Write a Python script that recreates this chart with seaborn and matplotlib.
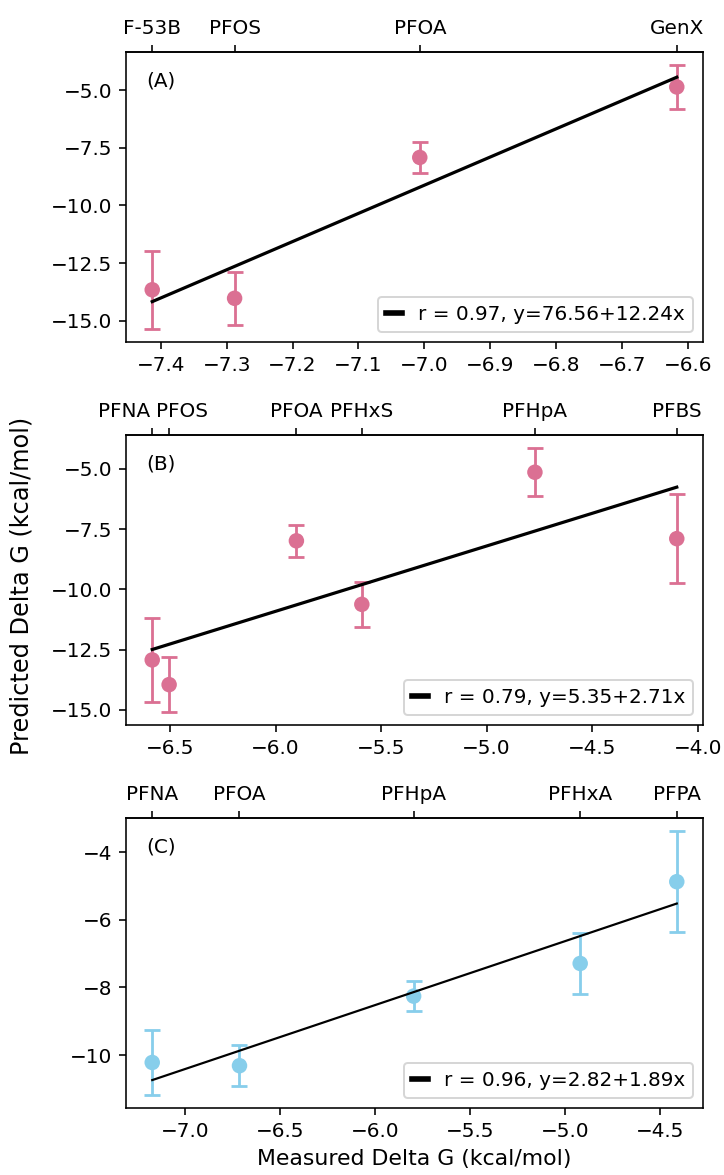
import matplotlib
matplotlib.use("Agg")
import matplotlib.pyplot as plt
from matplotlib.ticker import MultipleLocator
from matplotlib.transforms import ScaledTranslation
import seaborn as sns
import numpy as np
import pandas as pd

# Panel A
names_a = ["F-53B", "PFOS", "PFOA", "GenX"]
meas_a = [-7.413, -7.288, -7.007, -6.617]
pred_a = [-13.66, -14.03, -7.915, -4.855]
err_a = [1.70, 1.14, 0.685, 0.945]
fit_a = (0.97, 76.56, 12.24)

# Panel B
names_b = ["PFNA", "PFOS", "PFOA", "PFHxS", "PFHpA", "PFBS"]
meas_b = [-6.584, -6.504, -5.901, -5.591, -4.771, -4.099]
pred_b = [-12.925, -13.95, -7.985, -10.62, -5.14, -7.895]
err_b = [1.745, 1.13, 0.655, 0.94, 1.0, 1.855]
fit_b = (0.79, 5.35, 2.71)

# Panel C
names_c = ["PFNA", "PFOA", "PFHpA", "PFHxA", "PFPA"]
meas_c = [-7.172, -6.713, -5.797, -4.921, -4.413]
pred_c = [-10.215, -10.31, -8.255, -7.29, -4.875]
err_c = [0.955, 0.61, 0.435, 0.89, 1.495]
fit_c = (0.96, 2.82, 1.89)

panel_tags = ["(A)", "(B)", "(C)"]
pink = "#DB7093"
blue = "#87CEEB"

plt.rcParams["font.family"] = ["DejaVu Sans"]
plt.rcParams["font.size"] = 10

DPI = 144
fig, axes = plt.subplots(3, 1, figsize=(724 / DPI, 1175 / DPI), dpi=DPI)
fig.subplots_adjust(left=126 / 724, right=703 / 724,
                    top=1 - 52 / 1175, bottom=1 - 1108 / 1175, hspace=0.32)

panels = [
    (names_a, meas_a, pred_a, err_a, fit_a, pink, 1.6, 2.5),
    (names_b, meas_b, pred_b, err_b, fit_b, pink, 1.6, 2.5),
    (names_c, meas_c, pred_c, err_c, fit_c, blue, 1.1, 2.0),
]

# nudges (in pixels) for top labels that would otherwise collide
label_shift = {("(B)", "PFNA"): ("right", -2), ("(B)", "PFOS"): ("left", -13)}

for ax, tag, (names, xs, ys, es, fit, color, lw, ystep) in zip(axes, panel_tags, panels):
    df = pd.DataFrame({"measured": xs, "predicted": ys, "err": es, "name": names})
    r, b0, b1 = fit

    ax.errorbar(df["measured"], df["predicted"], yerr=df["err"], fmt="none",
                ecolor=color, elinewidth=1.4, capsize=3.8, capthick=1.4, zorder=2)
    sns.scatterplot(data=df, x="measured", y="predicted", ax=ax, color=color,
                    s=60, edgecolor="none", zorder=3, legend=False)

    xfit = np.array([min(xs), max(xs)])
    line_df = pd.DataFrame({"x": xfit, "y": b0 + b1 * xfit})
    sns.lineplot(data=line_df, x="x", y="y", ax=ax, color="black", linewidth=lw,
                 label=f"r = {r:.2f}, y={b0:.2f}+{b1:.2f}x", zorder=4)

    leg = ax.legend(loc="lower right", handlelength=0.8, fontsize=10)
    for h in leg.get_lines():
        h.set_linewidth(2.8)

    ax.yaxis.set_major_locator(MultipleLocator(ystep))
    ax.set_xlabel("")
    ax.set_ylabel("")
    ax.text(0.035, 0.90, tag, transform=ax.transAxes, va="center", ha="left")

    top = ax.secondary_xaxis("top")
    top.set_xticks(xs)
    labels = top.set_xticklabels(names)
    for lbl, nm in zip(labels, names):
        if (tag, nm) in label_shift:
            ha, dx = label_shift[(tag, nm)]
            lbl.set_ha(ha)
            lbl.set_transform(lbl.get_transform()
                              + ScaledTranslation(dx / DPI, 0, fig.dpi_scale_trans))

axes[1].set_ylabel("Predicted Delta G (kcal/mol)", fontsize=12)
axes[1].yaxis.set_label_coords(-0.161, 0.48)
axes[2].set_xlabel("Measured Delta G (kcal/mol)", fontsize=11)

fig.savefig("out.png", dpi=DPI)
